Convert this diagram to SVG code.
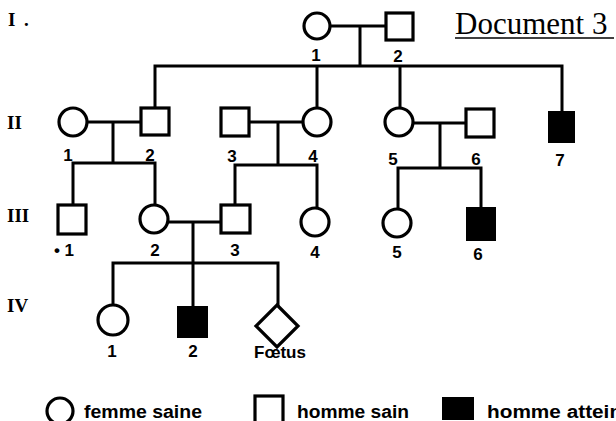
<svg xmlns="http://www.w3.org/2000/svg" width="616" height="421" viewBox="0 0 616 421">
<style>
.ln{stroke:#000;stroke-width:3;fill:none;stroke-linecap:square}
.sh{stroke:#000;stroke-width:3.2;fill:#fff}
.af{stroke:#000;stroke-width:2;fill:#000}
.lb{font-family:"Liberation Sans",Arial,sans-serif;font-weight:bold;font-size:17px;fill:#000;text-anchor:middle}
.gen{font-family:"Liberation Serif","Times New Roman",serif;font-weight:bold;font-size:19px;fill:#000}
.lg{font-family:"Liberation Sans",Arial,sans-serif;font-weight:bold;font-size:18px;fill:#000}
</style>
<rect width="616" height="421" fill="#fff"/>
<g id="title">
<text x="455" y="34" font-family="Liberation Serif,'Times New Roman',serif" font-size="31" fill="#000">Document 3</text>
<line x1="455" y1="38" x2="614" y2="38" stroke="#000" stroke-width="1.5"/>
</g>
<g id="generations">
<text class="gen" x="8" y="26">I</text>
<text class="gen" x="24" y="26">.</text>
<text class="gen" x="7" y="129">II</text>
<text class="gen" x="7" y="222">III</text>
<text class="gen" x="7" y="312">IV</text>
</g>
<g id="connectors">
<path class="ln" d="M330 26H386M360 26V66M155 66H562M155 66V108M317 66V108M400 66V108M562 66V111"/>
<path class="ln" d="M86 122H141M113 122V163M73 163H155M73 163V205M155 163V205"/>
<path class="ln" d="M249 122H303M278 122V165M235 165H317M235 165V205M317 165V208"/>
<path class="ln" d="M413 123H466M440 123V168M398 168H481M398 168V208M481 168V208"/>
<path class="ln" d="M168 222H221M193 222V263M113 263H278M113 263V305M193 263V307M278 263V305"/>
</g>
<g id="I1"><circle class="sh" cx="317" cy="26" r="13"/><text class="lb" x="316" y="61">1</text></g>
<g id="I2"><rect class="sh" x="386" y="13" width="27" height="27"/><text class="lb" x="398" y="62">2</text></g>
<g id="II1"><circle class="sh" cx="73" cy="122" r="14"/><text class="lb" x="68" y="161">1</text></g>
<g id="II2"><rect class="sh" x="141" y="108" width="28" height="27"/><text class="lb" x="150" y="161">2</text></g>
<g id="II3"><rect class="sh" x="221" y="108" width="28" height="28"/><text class="lb" x="232" y="162">3</text></g>
<g id="II4"><circle class="sh" cx="317" cy="122" r="14"/><text class="lb" x="313" y="162">4</text></g>
<g id="II5"><circle class="sh" cx="399" cy="122" r="14"/><text class="lb" x="393" y="165">5</text></g>
<g id="II6"><rect class="sh" x="466" y="109" width="28" height="28"/><text class="lb" x="476" y="165">6</text></g>
<g id="II7"><rect class="af" x="549" y="112" width="25" height="30"/><text class="lb" x="560" y="166">7</text></g>
<g id="III1"><rect class="sh" x="58" y="205" width="28" height="29"/><text class="lb" x="64" y="256">• 1</text></g>
<g id="III2"><circle class="sh" cx="154" cy="219" r="14"/><text class="lb" x="155" y="256">2</text></g>
<g id="III3"><rect class="sh" x="221" y="205" width="29" height="28"/><text class="lb" x="235" y="256">3</text></g>
<g id="III4"><circle class="sh" cx="315" cy="222" r="14"/><text class="lb" x="315" y="258">4</text></g>
<g id="III5"><circle class="sh" cx="397" cy="223" r="14"/><text class="lb" x="397" y="258">5</text></g>
<g id="III6"><rect class="af" x="467" y="208" width="28" height="32"/><text class="lb" x="478" y="260">6</text></g>
<g id="IV1"><circle class="sh" cx="113" cy="320" r="15"/><text class="lb" x="112" y="357">1</text></g>
<g id="IV2"><rect class="af" x="178" y="307" width="29" height="30"/><text class="lb" x="193" y="357">2</text></g>
<g id="Foetus"><polygon class="sh" points="277,305 298,326 277,347 256,326"/><text class="lb" x="280" y="358" font-size="15">Fœtus</text></g>
<g id="legend">
<circle class="sh" cx="60" cy="411" r="13"/>
<text class="lg" x="84" y="418" textLength="118" lengthAdjust="spacingAndGlyphs">femme saine</text>
<rect class="sh" x="255" y="396" width="28" height="40"/>
<text class="lg" x="297" y="418" textLength="112" lengthAdjust="spacingAndGlyphs">homme sain</text>
<rect class="af" x="443" y="398" width="30" height="21"/>
<text class="lg" x="487" y="418" textLength="142" lengthAdjust="spacingAndGlyphs">homme atteint</text>
</g>
</svg>
